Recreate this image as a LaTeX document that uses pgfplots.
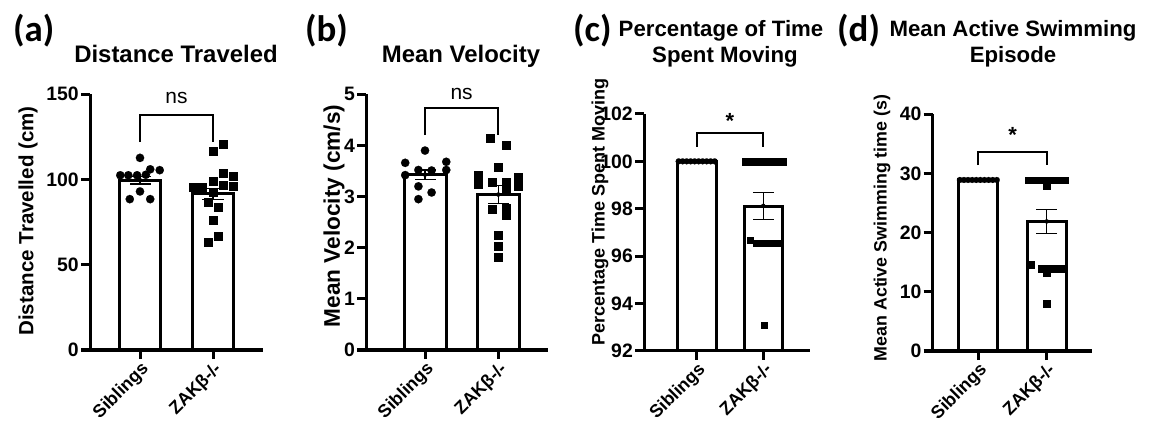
\documentclass[border=0pt]{standalone}
\usepackage{fontspec}
\setmainfont{Liberation Sans}
\newfontfamily\calib{Carlito}
\usepackage{pgfplots}
\pgfplotsset{compat=1.18}
\pgfplotsset{
  prism/.style={
    anchor=south west, scale only axis,
    axis x line=bottom, axis y line=left,
    axis line style={-, line width=3bp, black},
    tick align=outside, major tick length=9bp,
    tick style={line width=3bp, black},
    xtick={0,1}, xticklabels={Siblings,ZAKβ-/-},
    x tick label style={rotate=45, anchor=north east, inner sep=1bp,
      font=\bfseries\fontsize{18}{18}\selectfont},
    y tick label style={font=\bfseries\fontsize{19.5}{19.5}\selectfont, inner sep=2bp},
    /pgf/number format/assume math mode=true,
    clip mode=individual,
    minor tick num=0,
  },
  barst/.style={ybar, bar width=#1, fill=white, draw=black, line width=3bp, forget plot},
  errst/.style={only marks, mark=none, forget plot,
    error bars/.cd, y dir=both, y explicit, error mark=|,
    error bar style={black, line width=1.1bp},
    error mark options={black, line width=1.1bp, mark size=10.5bp}},
  dots/.style={only marks, mark=*, mark size=#1, mark options={fill=black, draw=black, line width=0.1bp}, forget plot},
  sqs/.style={only marks, mark=square*, mark size=#1, mark options={fill=black, draw=black, line width=0.1bp}, forget plot},
  brk/.style={black, line width=2bp, mark=none, sharp plot, forget plot},
}
\begin{document}
\begin{tikzpicture}[x=1bp,y=1bp]
\fill[white, use as bounding box] (0,0) rectangle (1151bp,434bp);

% ---------------- (a)
\begin{axis}[prism, at={(90bp,84bp)}, width=173bp, height=255.7bp,
  xmin=-0.685, xmax=1.685, ymin=0, ymax=150, ytick={0,50,100,150}]
\addplot[barst=0.575] coordinates {(0,99.6) (1,91.6)};
\addplot[dots=4.2bp] coordinates {(0,112.7) (-0.27,102.5) (-0.16,102.5) (-0.04,102.5) (0.08,102.8) (0.14,106) (0.27,105.5) (0,93) (-0.14,88.5) (0.14,88.5)};
\addplot[sqs=4bp] coordinates {(1,116.6) (1.14,120.6) (0.73,95.3) (0.85,95.7) (1,99) (1.14,104) (1.14,97) (1.27,102) (1.27,96) (1,92.5) (0.93,86.9) (1.07,83.9) (1,76.5) (1.07,67.1) (0.93,63.1)};
\addplot[errst] coordinates {(0,99.6) +- (0,2.2) (1,91.6) +- (0,3.2)};
\addplot[brk] coordinates {(0,122) (0,137.7) (1,137.7) (1,122)};
\node[font=\fontsize{21}{21}\selectfont, inner sep=0] at (axis cs:0.5,147.6) {ns};
\end{axis}

% ---------------- (b)
\begin{axis}[prism, at={(366bp,84bp)}, width=182bp, height=255.7bp,
  xmin=-0.805, xmax=1.678, ymin=0, ymax=5, ytick={0,1,2,3,4,5}]
\addplot[barst=0.573] coordinates {(0,3.43) (1,3.04)};
\addplot[dots=4.2bp] coordinates {(0,3.9) (-0.27,3.66) (0.29,3.68) (-0.27,3.42) (-0.09,3.52) (0.09,3.51) (0.29,3.52) (-0.09,3.2) (0.09,3.08) (-0.09,2.95)};
\addplot[sqs=4bp] coordinates {(0.89,4.14) (1.1,4.01) (1,3.57) (0.73,3.42) (0.73,3.25) (0.91,3.29) (1.1,3.29) (1.1,3.17) (1.27,3.39) (1.27,3.2) (0.91,2.76) (1.1,2.78) (1.1,2.64) (1,2.25) (1,2.03) (1,1.81)};
\addplot[errst] coordinates {(0,3.43) +- (0,0.09) (1,3.04) +- (0,0.17)};
\addplot[brk] coordinates {(0,4.2) (0,4.73) (1,4.73) (1,4.2)};
\node[font=\fontsize{21}{21}\selectfont, inner sep=0] at (axis cs:0.5,5.01) {ns};
\end{axis}

% ---------------- (c)
\begin{axis}[prism, at={(644bp,83.3bp)}, width=166bp, height=236.7bp,
  xmin=-0.79, xmax=1.70, ymin=92, ymax=102, ytick={92,94,96,98,100,102}]
\addplot[barst=0.58] coordinates {(0,100) (1,98.08)};
\addplot[dots=3bp] coordinates {(-0.27,100) (-0.21,100) (-0.15,100) (-0.09,100) (-0.03,100) (0.03,100) (0.09,100) (0.15,100) (0.21,100) (0.27,100)};
\addplot[sqs=3.3bp] coordinates {(0.73,100) (0.81,100) (0.89,100) (0.97,100) (1.05,100) (1.13,100) (1.21,100) (1.29,100) (0.8,96.68) (0.9,96.54) (0.97,96.54) (1.04,96.54) (1.11,96.54) (1.17,96.54) (1.22,96.54) (1.01,93.09)};
\addplot[errst] coordinates {(1,98.12) +- (0,0.57)};
\addplot[brk] coordinates {(0,100.62) (0,101.18) (1,101.18) (1,100.62)};
\node[font=\bfseries\fontsize{22}{22}\selectfont, inner sep=0] at (axis cs:0.5,101.72) {*};
\end{axis}

% ---------------- (d)
\begin{axis}[prism, at={(932.7bp,83bp)}, width=159.3bp, height=236.7bp,
  xmin=-0.667, xmax=1.662, ymin=0, ymax=40, ytick={0,10,20,30,40}]
\addplot[barst=0.57] coordinates {(0,28.9) (1,21.9)};
\addplot[dots=3bp] coordinates {(-0.27,28.9) (-0.21,28.9) (-0.15,28.9) (-0.09,28.9) (-0.03,28.9) (0.03,28.9) (0.09,28.9) (0.15,28.9) (0.21,28.9) (0.27,28.9)};
\addplot[sqs=3.4bp] coordinates {(0.73,28.9) (0.81,28.9) (0.89,28.9) (0.96,28.9) (1.04,28.9) (1.11,28.9) (1.19,28.9) (1.26,28.9) (1,27.9) (0.77,14.65) (0.92,13.97) (1.02,13.97) (1.12,13.97) (1.22,13.97) (1,13.3) (1,8.06)};
\addplot[errst] coordinates {(1,21.9) +- (0,2.0)};
\addplot[brk] coordinates {(0,31.4) (0,33.7) (1,33.7) (1,31.4)};
\node[font=\bfseries\fontsize{22}{22}\selectfont, inner sep=0] at (axis cs:0.5,36.5) {*};
\end{axis}

% ---------------- panel letters
\begin{scope}[every node/.style={anchor=base west, inner sep=0, font=\calib\bfseries\fontsize{37}{37}\selectfont}]
\node at (13bp,392bp) {(a)};
\node at (305bp,392bp) {(b)};
\node at (573bp,392bp) {(c)};
\node at (837bp,392bp) {(d)};
\end{scope}

% ---------------- titles
\node[anchor=base, inner sep=0, font=\bfseries\fontsize{24}{24}\selectfont] at (176bp,371bp) {Distance Traveled};
\node[anchor=base, inner sep=0, font=\bfseries\fontsize{24}{24}\selectfont] at (461bp,371bp) {Mean Velocity};
\node[anchor=base, inner sep=0, font=\bfseries\fontsize{22.3}{22.3}\selectfont] at (721bp,397bp) {Percentage of Time};
\node[anchor=base, inner sep=0, font=\bfseries\fontsize{22.3}{22.3}\selectfont] at (725bp,371bp) {Spent Moving};
\node[anchor=base, inner sep=0, font=\bfseries\fontsize{22.3}{22.3}\selectfont] at (1013bp,397bp) {Mean Active Swimming};
\node[anchor=base, inner sep=0, font=\bfseries\fontsize{22.3}{22.3}\selectfont] at (1013bp,371bp) {Episode};

% ---------------- y labels
\node[rotate=90, inner sep=0, font=\bfseries\fontsize{20.6}{20.6}\selectfont] at (28bp,213bp) {Distance Travelled (cm)};
\node[rotate=90, inner sep=0, font=\bfseries\fontsize{22.7}{22.7}\selectfont] at (334bp,218bp) {Mean Velocity (cm/s)};
\node[rotate=90, inner sep=0, font=\bfseries\fontsize{18.1}{18.1}\selectfont] at (600bp,222bp) {Percentage Time Spent Moving};
\node[rotate=90, inner sep=0, font=\bfseries\fontsize{17.9}{17.9}\selectfont] at (882bp,206bp) {Mean Active Swimming time (s)};
\end{tikzpicture}
\end{document}
